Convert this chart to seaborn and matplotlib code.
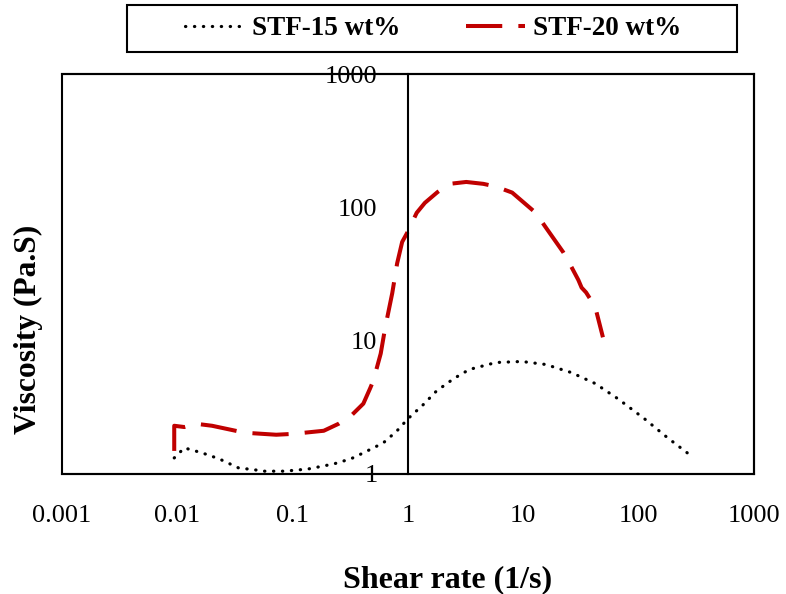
import matplotlib
matplotlib.use("Agg")
import matplotlib.pyplot as plt
from matplotlib.patches import Rectangle
from matplotlib.lines import Line2D
from matplotlib.ticker import FixedLocator, FixedFormatter, NullLocator
import seaborn as sns
import pandas as pd

# Shear rate (1/s) and viscosity (Pa.s) for the two suspensions
shear_15 = [0.0094, 0.0115, 0.0164, 0.023, 0.034, 0.045, 0.057, 0.085, 0.136,
            0.227, 0.32, 0.41, 0.61, 0.8, 1.0, 1.35, 1.77, 2.5, 3.4, 5.8, 9.7,
            15.6, 26, 42, 66, 112, 178, 264]
visc_15 = [1.32, 1.57, 1.44, 1.30, 1.11, 1.08, 1.05, 1.05, 1.09,
           1.19, 1.3, 1.44, 1.71, 2.1, 2.6, 3.3, 4.2, 5.2, 6.08, 6.86, 6.98,
           6.63, 5.77, 4.77, 3.67, 2.6, 1.87, 1.44]

shear_20 = [0.0094, 0.0094, 0.0115, 0.0146, 0.02, 0.0384, 0.072, 0.101, 0.186,
            0.25, 0.33, 0.41, 0.47, 0.50, 0.58, 0.635, 0.73, 0.805, 0.89, 0.98,
            1.19, 1.40, 1.8, 2.29, 3.2, 4.5, 5.8, 8.0, 12.8, 15.6, 22.2, 26, 30,
            32, 35, 42, 49]
visc_20 = [1.49, 2.30, 2.25, 2.38, 2.30, 2.04, 1.97, 2.0, 2.11,
           2.38, 2.8, 3.37, 4.4, 5.0, 8.0, 12.6, 22.7, 38, 55, 64,
           91, 108, 130, 150, 155, 150, 143, 129, 91, 71, 46, 36, 28.5,
           25, 23, 17.9, 10.6]

series_names = ["STF-15 wt%", "STF-20 wt%"]
x_ticks = [0.001, 0.01, 0.1, 1, 10, 100, 1000]
x_tick_labels = ["0.001", "0.01", "0.1", "1", "10", "100", "1000"]
y_ticks = [1, 10, 100, 1000]
y_tick_labels = ["1", "10", "100", "1000"]

df15 = pd.DataFrame({"shear": shear_15, "visc": visc_15})
df20 = pd.DataFrame({"shear": shear_20, "visc": visc_20})

sns.set_theme(style="white")
plt.rcParams["font.family"] = ["Liberation Serif", "DejaVu Serif"]
plt.rcParams["text.color"] = "black"
plt.rcParams["axes.labelcolor"] = "black"
plt.rcParams["xtick.color"] = "black"
plt.rcParams["ytick.color"] = "black"

fig = plt.figure(figsize=(7.86, 5.94), dpi=100)
ax = fig.add_axes([62 / 786, 1 - 474 / 594, (754 - 62) / 786, (474 - 74) / 594])

dot_style = (0, (0.1, 2.7))
dash_style = (0, (9.0, 4.0))
red = "#C00000"

sns.lineplot(data=df15, x="shear", y="visc", ax=ax, estimator=None, sort=False,
             color="black", linewidth=2.3, linestyle=dot_style,
             dash_capstyle="round")
sns.lineplot(data=df20, x="shear", y="visc", ax=ax, estimator=None, sort=False,
             color=red, linewidth=2.9, linestyle=dash_style,
             dash_capstyle="butt")

ax.set_xscale("log")
ax.set_yscale("log")
ax.set_xlim(0.001, 1000)
ax.set_ylim(1, 1000)

ax.xaxis.set_major_locator(FixedLocator(x_ticks))
ax.xaxis.set_major_formatter(FixedFormatter(x_tick_labels))
ax.yaxis.set_major_locator(FixedLocator(y_ticks))
ax.yaxis.set_major_formatter(FixedFormatter(y_tick_labels))
ax.xaxis.set_minor_locator(NullLocator())
ax.yaxis.set_minor_locator(NullLocator())

ax.tick_params(axis="x", length=0, pad=22, labelsize=19, colors="black")
ax.tick_params(axis="y", length=0, pad=22, labelsize=19, colors="black")
ax.set_xlabel("")
ax.set_ylabel("")

# vertical axis crosses the horizontal axis at shear rate = 1
for side in ["top", "right", "bottom"]:
    ax.spines[side].set_visible(True)
    ax.spines[side].set_color("black")
    ax.spines[side].set_linewidth(1.5)
ax.spines["left"].set_position(("data", 1))
ax.spines["left"].set_color("black")
ax.spines["left"].set_linewidth(1.5)
ax.add_patch(Rectangle((0, 0), 1, 1, transform=ax.transAxes, fill=False,
                       edgecolor="black", linewidth=1.5, clip_on=False, zorder=5))

fig.text(448 / 786, 1 - 580 / 594, "Shear rate (1/s)", ha="center", va="center",
         fontsize=23, fontweight="bold", color="black")
fig.text(28 / 786, 1 - 329 / 594, "Viscosity (Pa.S)", ha="center", va="center",
         rotation=90, fontsize=22.7, fontweight="bold", color="black")

# legend in a framed box above the plot
fig.patches.append(Rectangle((127 / 786, 1 - 52 / 594), (737 - 127) / 786, 47 / 594,
                             transform=fig.transFigure, fill=False,
                             edgecolor="black", linewidth=1.5))
handles = [
    Line2D([], [], color="black", linewidth=2.3, linestyle=dot_style,
           dash_capstyle="round"),
    Line2D([], [], color=red, linewidth=2.9, linestyle=dash_style),
]
leg = fig.legend(handles, series_names, loc="center",
                 bbox_to_anchor=(433 / 786, 1 - 28.5 / 594), ncol=2,
                 frameon=False, handlelength=2.2, handletextpad=0.28,
                 columnspacing=2.4, prop={"size": 19.5, "weight": "bold"})
for t in leg.get_texts():
    t.set_color("black")

fig.savefig("out.png", dpi=100)
